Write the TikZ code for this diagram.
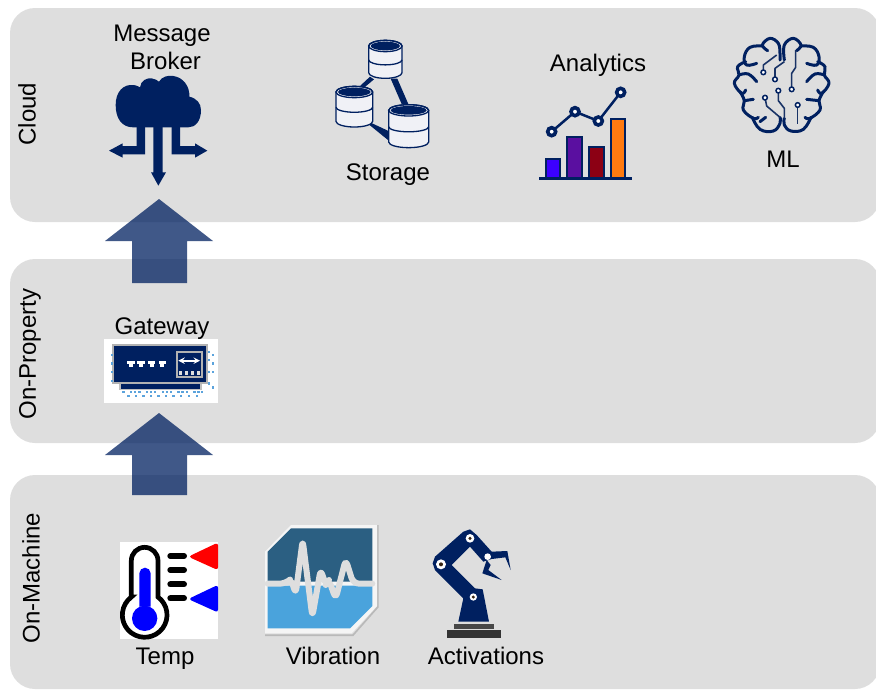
\documentclass[tikz,border=0pt]{standalone}
\usepackage{fontspec}
\setmainfont{Liberation Sans}
\definecolor{navy}{HTML}{002060}
\definecolor{bandgrey}{HTML}{DEDEDE}
\definecolor{cylfill}{HTML}{F0F1F6}
\definecolor{vibdark}{HTML}{2B5F82}
\definecolor{viblight}{HTML}{4AA3DC}
\definecolor{dotblue}{HTML}{5BA3DC}
\tikzset{
  band/.style={fill=bandgrey,rounded corners=25pt},
  blockarrow/.style={fill=navy,fill opacity=.75},
  lab/.style={font=\fontsize{24}{28}\selectfont,inner sep=0pt,align=center},
  icon/.style={shift={#1},x=.33333pt,y=-.33333pt},
  brainline/.style={draw=navy,line width=3pt,line cap=round,line join=round},
  wire/.style={draw=navy!80!gray,line width=1.6pt,line join=round},
  pad/.style={fill=white,draw=navy,line width=1.5pt},
  cyl/.style={fill=cylfill,draw=navy,line width=1.3pt},
  chartpt/.style={fill=white,draw=navy,line width=3.6pt},
  chartbar/.style={draw=navy,line width=2.3pt},
  tick/.style={draw=black,line width=6pt,line cap=round},
  gdot/.style={fill=dotblue},
}
\newcommand{\cylinder}[4]{% cx, top y, half width, height (zoom units)
  \begin{scope}[shift={(#1,#2)}]
    \path[cyl] (-#3,0) -- (-#3,#4) arc[start angle=180,end angle=0,x radius=#3,y radius=17] -- (#3,0)
      arc[start angle=0,end angle=-180,x radius=#3,y radius=17] -- cycle;
    \draw[navy,line width=1.3pt] (0,0) ellipse[x radius=#3,y radius=17];
    \path[fill=navy] (0,0) ellipse[x radius=#3-6,y radius=13];
    \draw[navy,line width=1.3pt] (-#3,#4*.52) arc[start angle=180,end angle=0,x radius=#3,y radius=15];
  \end{scope}}
\begin{document}
\begin{tikzpicture}[x=1pt,y=-1pt]
\useasboundingbox (0,0) rectangle (876,689);
\clip (0,0) rectangle (876,689);
% bands
\path[band] (10,8) rectangle (880,222);
\path[band] (10,259) rectangle (880,443);
\path[band] (10,475) rectangle (880,689);
% block arrows
\path[blockarrow] (159,199) -- (213,241) -- (187,241) -- (187,283) -- (132,283) -- (132,241) -- (105,241) -- cycle;
\path[blockarrow] (159,413) -- (213,455) -- (187,455) -- (187,495) -- (132,495) -- (132,455) -- (105,455) -- cycle;
% band labels
\node[lab,rotate=90] (cloud) at (27,114) {Cloud};
\node[lab,rotate=90] (prop) at (30,354) {On-Property};
\node[lab,rotate=90] (mach) at (31,578) {On-Machine};
% text labels
\node[lab] (broker) at (162,47) {Message\\\hspace*{7pt}Broker};
\node[lab] (storage) at (388,175) {Storage};
\node[lab] (analytics) at (598,65) {Analytics};
\node[lab] (ml) at (783,159) {ML};
\node[lab] (gateway) at (162,329) {Gateway};
\node[lab] (temp) at (165,659) {Temp};
\node[lab] (vibration) at (333,656) {Vibration};
\node[lab] (activations) at (486,656) {Activations};
% message broker icon
\begin{scope}[icon={(90,10)}]
  \fill[navy] (130,352) .. controls (95,352) and (77,325) .. (77,285) .. controls (77,245) and (100,222) .. (130,225) .. controls (142,226) and (148,232) .. (150,232) .. controls (152,212) and (170,203) .. (185,205) .. controls (195,206) and (203,212) .. (207,215) .. controls (215,200) and (235,195) .. (250,198) .. controls (280,202) and (300,230) .. (298,260) .. controls (320,265) and (333,280) .. (333,300) .. controls (333,335) and (315,352) .. (295,352) -- cycle;
  \fill[navy] (190,345) -- (218,345) -- (218,487) -- (228,487) -- (205,527) -- (183,487) -- (190,487) -- cycle;
  \fill[navy] (140,345) -- (165,345) -- (165,433) -- (98,433) -- (98,443) -- (57,422) -- (98,400) -- (98,408) -- (140,408) -- cycle;
  \fill[navy] (245,345) -- (270,345) -- (270,408) -- (315,408) -- (315,400) -- (352,422) -- (315,443) -- (315,433) -- (245,433) -- cycle;
\end{scope}
% storage icon
\begin{scope}[icon={(320,30)}]
  \fill[navy] (212,146) -- (232,146) -- (265,222) -- (245,222) -- cycle;
  \fill[navy] (150,140) -- (162,148) -- (130,175) -- (120,168) -- cycle;
  \fill[navy] (145,282) -- (152,278) -- (210,305) -- (210,335) -- cycle;
  \cylinder{196}{48}{50}{80}
  \cylinder{103}{186}{55}{88}
  \cylinder{266}{241}{60}{95}
\end{scope}
% analytics icon
\begin{scope}[icon={(530,75)}]
  \draw[navy,line width=2.6pt] (28,310) -- (305,310);
  \path[chartbar,fill={rgb,255:red,60;green,0;blue,255}] (47,305) -- (47,251) -- (91,251) -- (91,305);
  \path[chartbar,fill={rgb,255:red,90;green,15;blue,160}] (112,305) -- (112,187) -- (156,187) -- (156,305);
  \path[chartbar,fill={rgb,255:red,140;green,0;blue,20}] (177,305) -- (177,217) -- (221,217) -- (221,305);
  \path[chartbar,fill={rgb,255:red,255;green,122;blue,16}] (242,305) -- (242,131) -- (286,131) -- (286,305);
  \draw[navy,line width=2.5pt] (65,170) -- (135,110) -- (205,138) -- (272,52);
  \path[chartpt] (65,170) circle[radius=12];
  \path[chartpt] (135,110) circle[radius=12];
  \path[chartpt] (205,138) circle[radius=12];
  \path[chartpt] (272,52) circle[radius=12];
\end{scope}
% ML brain icon
\begin{scope}[icon={(725,30)}]
  \draw[brainline] plot[smooth,tension=.65] coordinates {(128,62) (112,45) (135,25) (160,40) (165,70) (165,90)};
  \draw[brainline] plot[smooth,tension=.7] coordinates {(112,48) (75,52) (58,80) (65,105) (95,100)};
  \draw[brainline] plot[smooth,tension=.7] coordinates {(62,95) (38,110) (42,135) (28,160) (50,190) (62,180)};
  \draw[brainline] plot[smooth,tension=.7] coordinates {(42,135) (70,132) (95,155)};
  \draw[brainline] plot[smooth,tension=.7] coordinates {(45,185) (58,212) (55,240) (85,265) (100,262)};
  \draw[brainline] plot[smooth,tension=.7] coordinates {(58,212) (85,208)};
  \draw[brainline] plot[smooth,tension=.7] coordinates {(82,262) (105,298) (145,303) (165,280) (165,262)};
  \draw[brainline] (105,275) -- (122,262);
  \draw[brainline] plot[smooth,tension=.65] coordinates {(178,90) (178,45) (205,25) (228,45) (215,62)};
  \draw[brainline] plot[smooth,tension=.7] coordinates {(228,48) (265,52) (282,80) (275,105) (245,100)};
  \draw[brainline] plot[smooth,tension=.7] coordinates {(278,95) (300,110) (298,135) (312,160) (290,190) (278,180)};
  \draw[brainline] plot[smooth,tension=.7] coordinates {(298,135) (270,132) (245,155)};
  \draw[brainline] plot[smooth,tension=.7] coordinates {(295,185) (282,212) (285,240) (255,265) (240,262)};
  \draw[brainline] plot[smooth,tension=.7] coordinates {(282,212) (245,208)};
  \draw[brainline] plot[smooth,tension=.7] coordinates {(258,262) (235,298) (198,303) (178,285) (178,265)};
  \path[wire] (115,127) -- (115,105) -- (155,75);
  \path[wire] (150,148) -- (150,115) -- (178,95);
  \path[wire] (200,178) -- (200,130) -- (212,112) -- (212,60);
  \path[wire] (160,182) -- (160,212) -- (178,235) -- (178,265);
  \path[wire] (120,203) -- (125,228) -- (165,262);
  \path[wire] (218,225) -- (218,282);
  \path[pad] (115,127) circle[radius=7];
  \path[pad] (150,148) circle[radius=7];
  \path[pad] (200,178) circle[radius=7];
  \path[pad] (160,182) circle[radius=7];
  \path[pad] (120,203) circle[radius=7];
  \path[pad] (218,225) circle[radius=7];
\end{scope}
% gateway icon
\begin{scope}[icon={(95,330)}]
  \fill[white] (27,28) rectangle (368,218);
  \path[fill=navy,draw=gray!50,line width=1.5pt] (75,160) rectangle (318,178);
  \path[fill=navy,draw=gray!60,line width=2pt] (55,45) rectangle (335,160);
  \foreach \tx in {108,138,170,202}{
    \fill[white] (\tx-11,93) rectangle (\tx+11,102);
    \fill[white] (\tx-6,102) rectangle (\tx+6,110);
  }
  \path[draw=gray!60,line width=2pt] (245,65) rectangle (320,140);
  \draw[white,line width=1.8pt,<->,>=stealth] (250,92) -- (315,92);
  \foreach \tx in {256,274,292,310}{\fill[gray!25] (\tx-4,124) rectangle (\tx+4,134);}
  \foreach \tx in {85,108,120,133,156,168,180,203,215,228,250,262,275,298,310,320}{\path[gdot] (\tx-3.5,182) rectangle (\tx+3.5,189);}
  \foreach \tx in {100,122,145,168,190,212,235,258,282,305}{\path[gdot] (\tx-3.5,195) rectangle (\tx+3.5,202);}
  \foreach \ty in {75,100,125,152}{\path[gdot] (47,\ty-3.5) rectangle (54,\ty+3.5);}
  \foreach \ty in {65,90,125,160}{\path[gdot] (339,\ty-3.5) rectangle (346,\ty+3.5);}
  \foreach \ty in {75,100,125,172}{\path[gdot] (351,\ty-3.5) rectangle (358,\ty+3.5);}
\end{scope}
% temperature icon
\begin{scope}[icon={(110,535)}]
  \fill[white] (30,22) rectangle (325,312);
  \draw[black,line width=4.7pt] (64,186) -- (64,77) arc[start angle=180,end angle=360,radius=40] -- (144,186)
     arc[start angle=-53.4,end angle=233.4,radius=67] -- cycle;
  \fill[blue] (88,215) -- (88,115) arc[start angle=180,end angle=360,radius=17] -- (122,215) -- cycle;
  \fill[blue] (104,250) circle[radius=38];
  \foreach \ty in {63,105,148,190}{\draw[tick] (181,\ty) -- (222,\ty);}
  \path[fill=red,draw=red,line width=1.5pt,rounded corners=2pt] (240,65) -- (322,26) -- (322,102) -- cycle;
  \path[fill=blue,draw=blue,line width=1.5pt,rounded corners=2pt] (240,192) -- (322,153) -- (322,229) -- cycle;
\end{scope}
% vibration icon
\begin{scope}[icon={(255,520)}]
  \fill[gray!55] (366,15) -- (371,15) -- (371,262) -- (295,348) -- (30,348) -- (30,343) -- (293,343) -- (366,260) -- cycle;
  \fill[gray!8] (30,95) -- (108,15) -- (366,15) -- (366,258) -- (290,340) -- (30,340) -- cycle;
  \fill[vibdark] (38,95) -- (108,25) -- (352,25) -- (352,185) -- (38,185) -- cycle;
  \fill[viblight] (38,197) -- (352,197) -- (352,258) -- (285,325) -- (38,325) -- cycle;
  \draw[bandgrey,line width=6pt,line join=round,line cap=round,rounded corners=6pt] (38,191) -- (92,191) -- (108,176) -- (122,222) -- (143,60) -- (172,290) -- (197,148) -- (212,195) -- (222,180) -- (242,237) -- (272,118) -- (295,191) -- (352,191);
\end{scope}
% robot icon
\begin{scope}[icon={(420,520)}]
  \fill[black!80] (82,331) rectangle (242,355);
  \fill[black!72] (102,311) rectangle (222,326);
  \fill[navy,line join=round] (115,305) -- (130,235) -- (45,150) -- (38,130) -- (45,110) -- (130,35) -- (150,28) -- (170,45) -- (215,95) -- (262,93) -- (272,150) -- (256,112) -- (215,117) -- (190,125) -- (150,80) -- (95,135) -- (165,205) -- (188,208) -- (207,305) -- cycle;
  \fill[navy] (200,120) -- (212,135) -- (205,150) -- (245,180) -- (187,160) -- cycle;
  \fill[white] (150,55) circle[radius=13];
  \fill[black!70!brown] (150,55) circle[radius=5];
  \fill[white] (63,133) circle[radius=15];
  \fill[black!70!brown] (63,133) circle[radius=6];
  \fill[white] (203,110) circle[radius=10];
  \fill[white] (160,231) circle[radius=11];
  \fill[black!70!brown] (160,231) circle[radius=5];
\end{scope}
\end{tikzpicture}
\end{document}
